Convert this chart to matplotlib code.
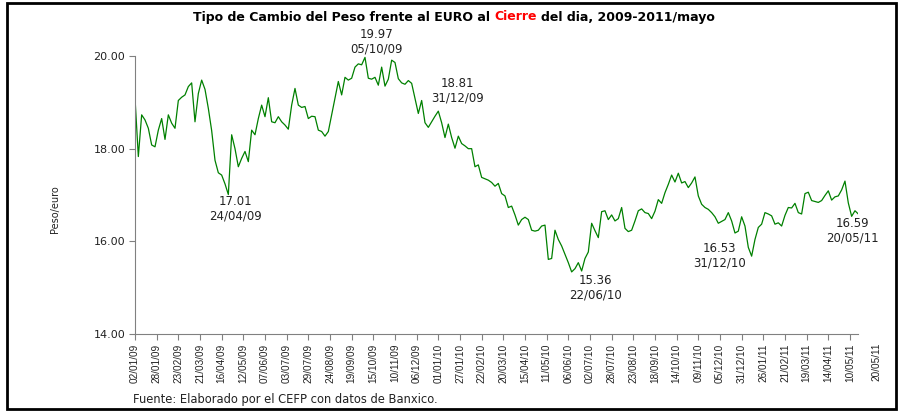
import numpy as np
import pandas as pd
import matplotlib
matplotlib.use('Agg')
import matplotlib.pyplot as plt
import matplotlib.dates as mdates
from matplotlib.patches import Rectangle

# datos: tipo de cambio peso/euro al cierre, muestreado cada 4 dias
fechas = pd.date_range('2009-01-02', '2011-05-20', freq='4D')
cierre = [
    19.09, 17.83, 18.73, 18.62, 18.44, 18.08, 18.04, 18.40, 18.65, 18.20,
    18.73, 18.55, 18.44, 19.04, 19.11, 19.16, 19.34, 19.42, 18.58, 19.19,
    19.48, 19.28, 18.87, 18.39, 17.75, 17.48, 17.43, 17.24, 17.01, 18.30,
    18.00, 17.61, 17.79, 17.94, 17.72, 18.40, 18.30,
    18.65, 18.94, 18.69, 19.10, 18.58, 18.56, 18.69, 18.58, 18.51,
    18.42, 18.94, 19.30, 18.94, 18.89, 18.91, 18.65, 18.70, 18.69, 18.40,
    18.37, 18.27, 18.37, 18.73, 19.09, 19.45, 19.16, 19.54, 19.48, 19.52,
    19.76, 19.83, 19.81, 19.97, 19.52, 19.50,
    19.54, 19.37, 19.76, 19.35, 19.50, 19.91, 19.86, 19.51, 19.42, 19.39,
    19.47, 19.41, 19.09, 18.76, 19.04, 18.56, 18.46, 18.58, 18.70, 18.81,
    18.56, 18.24, 18.53, 18.24, 18.01, 18.27, 18.11, 18.06, 18.00, 18.00,
    17.61, 17.65, 17.38, 17.35, 17.32, 17.27,
    17.19, 17.25, 17.03, 16.98, 16.73, 16.76, 16.57, 16.35, 16.47, 16.52,
    16.47, 16.24, 16.22, 16.24, 16.33, 16.35, 15.61, 15.63, 16.24, 16.04,
    15.90, 15.72, 15.54, 15.34, 15.41, 15.54, 15.36, 15.63, 15.77, 16.39,
    16.23, 16.08, 16.64, 16.66, 16.47, 16.57,
    16.44, 16.49, 16.73, 16.28, 16.21, 16.24, 16.44, 16.66, 16.70, 16.62,
    16.60, 16.49, 16.65, 16.90, 16.82, 17.05, 17.23, 17.43, 17.28, 17.47,
    17.26, 17.29, 17.16, 17.26, 17.39, 16.98, 16.80, 16.73, 16.69, 16.62,
    16.53, 16.39, 16.43, 16.47, 16.62, 16.44,
    16.18, 16.22, 16.53, 16.33, 15.87, 15.68, 16.04, 16.30, 16.37, 16.62,
    16.59, 16.55, 16.37, 16.40, 16.33, 16.56, 16.73, 16.72, 16.82, 16.62,
    16.59, 17.03, 17.06, 16.88, 16.86, 16.84, 16.88, 16.99, 17.09, 16.89,
    16.96, 16.98, 17.11, 17.30, 16.83, 16.54, 16.66, 16.59,
]

# etiquetas del eje x (cada 26 dias) y la ultima fecha
ticks_x = pd.date_range('2009-01-02', '2011-05-10', freq='26D')
ultima_fecha = '20/05/11'

# puntos senalados
notas_fecha = pd.to_datetime(['2009-10-05', '2009-12-31', '2009-04-24',
                              '2010-06-22', '2010-12-31', '2011-05-20'])
notas_valor = [19.97, 18.81, 17.01, 15.36, 16.53, 16.59]
# desplazamiento del texto (puntos)
desplaz = [(8.6, 11.5), (14.4, 14.4), (5, -10), (10, -12), (-16, -28), (-4.3, -12)]

fuente_x = ['Liberation Sans Narrow', 'Liberation Sans', 'DejaVu Sans']

W, H = 899, 412
fig = plt.figure(figsize=(W / 100, H / 100), dpi=100)
ax = fig.add_axes([135 / W, 1 - 334 / H, (858.3 - 135) / W, (334 - 56) / H])

ax.plot(fechas, cierre, color='#008000', lw=0.9)

ax.set_xlim(fechas[0], fechas[-1])
ax.set_ylim(14, 20)
ax.set_yticks([14, 16, 18, 20])
ax.yaxis.set_major_formatter(plt.FormatStrFormatter('%.2f'))
ax.set_xticks(ticks_x)
ax.xaxis.set_major_formatter(mdates.DateFormatter('%d/%m/%y'))

for s in ['top', 'right']:
    ax.spines[s].set_visible(False)
for s in ['left', 'bottom']:
    ax.spines[s].set_color('#808080')

ax.tick_params(axis='y', direction='out', length=4, color='#808080',
               labelsize=8, labelcolor='#222222', pad=3)
ax.tick_params(axis='x', direction='out', length=4, color='#808080',
               labelsize=7.2, labelcolor='#222222', pad=3, rotation=90)
for lab in ax.get_xticklabels():
    lab.set_family(fuente_x)

# ultima etiqueta, fuera del eje
ax.annotate(ultima_fecha, xy=(fechas[-1], 14), xycoords='data',
            xytext=(13, -6), textcoords='offset points', rotation=90,
            ha='center', va='top', fontsize=7.2, color='#222222',
            family=fuente_x, annotation_clip=False)

ax.set_ylabel('Peso/euro', fontsize=7, color='#222222')
ax.yaxis.set_label_coords((60 - 135) / 723.3, 0.45)

for f, v, (dx, dy) in zip(notas_fecha, notas_valor, desplaz):
    ax.annotate(f'{v:.2f}\n{f:%d/%m/%y}', xy=(f, v), xytext=(dx, dy),
                textcoords='offset points', ha='center', va='center',
                fontsize=8.5, color='#222222', linespacing=1.15,
                annotation_clip=False)

# titulo con "Cierre" en rojo
t1 = fig.text(193 / W, 1 - 17 / H, 'Tipo de Cambio del Peso frente al EURO al',
              fontsize=9, fontweight='bold', ha='left', va='center')
t2 = ax.annotate('Cierre', xy=(1, 0), xycoords=t1, xytext=(3, 0),
                 textcoords='offset points', ha='left', va='bottom',
                 fontsize=9, fontweight='bold', color='red')
ax.annotate('del dia, 2009-2011/mayo', xy=(1, 0), xycoords=t2, xytext=(3, 0),
            textcoords='offset points', ha='left', va='bottom',
            fontsize=9, fontweight='bold', color='black')

fig.text(133 / W, 1 - 400 / H, 'Fuente: Elaborado por el CEFP con datos de Banxico.',
         fontsize=8.3, ha='left', va='center', color='#222222')

fig.add_artist(Rectangle((6.5 / W, 3 / H), (896 - 6.5) / W, (409 - 3) / H,
                         transform=fig.transFigure, fill=False, lw=2, ec='black'))

fig.savefig('out.png', dpi=100)
